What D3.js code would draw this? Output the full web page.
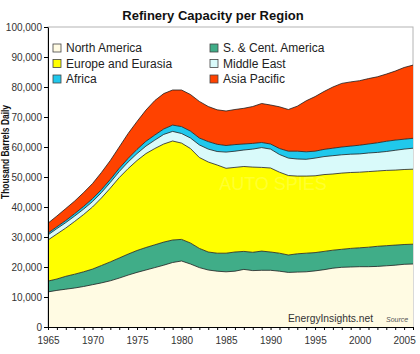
<!DOCTYPE html>
<html lang="en">
    <head>
        <meta charset="utf-8"/>
        <script src="https://d3js.org/d3.v7.min.js"></script>
        <style>
            body { margin: 0; background: #fff; }
            text { font-family: Arial, "Liberation Sans", sans-serif; }
        </style>
    </head>
    <body>
        <div id="chart"></div>
    </body>
    <script>
        // thousand barrels daily
        var years = [1965, 1966, 1967, 1968, 1969, 1970, 1971, 1972, 1973, 1974,
                     1975, 1976, 1977, 1978, 1979, 1980, 1981, 1982, 1983, 1984,
                     1985, 1986, 1987, 1988, 1989, 1990, 1991, 1992, 1993, 1994,
                     1995, 1996, 1997, 1998, 1999, 2000, 2001, 2002, 2003, 2004,
                     2005, 2006];
        var northAmerica = [11700, 12200, 12600, 13000, 13500, 14100, 14700, 15400, 16300, 17300,
                            18200, 19000, 19800, 20600, 21500, 22000, 21000, 19800, 19000, 18600,
                            18400, 18600, 19200, 18800, 18900, 18900, 18600, 18200, 18300, 18400,
                            18700, 19100, 19600, 19900, 20000, 20100, 20100, 20200, 20400, 20600,
                            20900, 21000];
        var southCentAmerica = [3600, 3800, 4300, 4600, 4900, 5200, 5800, 6300, 6700, 7000,
                                7300, 7500, 7600, 7700, 7500, 7200, 7000, 6400, 6000, 6000,
                                6200, 6400, 6000, 6100, 6400, 6100, 6000, 5800, 6100, 6200,
                                6100, 6100, 6000, 6000, 6200, 6300, 6500, 6700, 6700, 6700,
                                6600, 6600];
        var europeEurasia = [13700, 15000, 16100, 17600, 19100, 20700, 22500, 24600, 26800, 28500,
                             30000, 31300, 32100, 32700, 33000, 32100, 31500, 30300, 30000, 29400,
                             28300, 28200, 28300, 28400, 27900, 28000, 27000, 26500, 25900, 25700,
                             25600, 25600, 25400, 25400, 25300, 25200, 25200, 25100, 25100, 25000,
                             25000, 25000];
        var middleEast = [1700, 1800, 1800, 1800, 1800, 1800, 1800, 1900, 2000, 2200,
                          2300, 2500, 2800, 3200, 3200, 3200, 3500, 4200, 4300, 4500,
                          5400, 5400, 5500, 6000, 6600, 6300, 5900, 5800, 5700, 5600,
                          5900, 6000, 6100, 6100, 6100, 6100, 6200, 6200, 6300, 6600,
                          6800, 7000];
        var africa = [600, 600, 700, 800, 900, 1000, 1000, 1000, 1100, 1200,
                      1400, 1600, 1700, 1800, 2100, 2300, 2300, 2300, 2500, 2400,
                      2200, 2200, 2000, 1900, 1700, 1700, 2000, 2300, 2600, 2500,
                      2300, 2400, 2500, 2600, 2700, 2900, 3000, 3200, 3400, 3400,
                      3300, 3300];
        var asiaPacific = [3300, 3600, 4000, 4200, 4600, 5000, 5700, 6300, 7100, 8300,
                           9300, 10400, 11500, 11800, 11700, 12200, 12200, 12200, 11700, 11500,
                           11500, 11700, 11900, 12300, 13000, 13000, 13900, 13900, 15000, 17000,
                           18200, 19300, 20400, 21200, 21400, 21500, 21800, 22000, 22400, 23000,
                           23900, 24400];

        var regions = ["North America", "S. & Cent. America", "Europe and Eurasia",
                       "Middle East", "Africa", "Asia Pacific"];
        var colors = ["#fffbe3", "#40ad88", "#ffff00", "#d9fafa", "#20c8ec", "#ff4200"];
        var yTicks = [0, 10000, 20000, 30000, 40000, 50000, 60000, 70000, 80000, 90000, 100000];
        var xLabels = [1965, 1970, 1975, 1980, 1985, 1990, 1995, 2000, 2005];

        var margin = {top: 27, right: 7, bottom: 27, left: 48};
        var width = 420 - margin.left - margin.right;
        var height = 354 - margin.top - margin.bottom;

        var root = d3.select("#chart")
            .append("svg")
                .attr("width", 420)
                .attr("height", 354);

        root.append("rect")
            .attr("width", 420)
            .attr("height", 354)
            .attr("fill", "#fff");

        var svg = root.append("g")
            .attr("transform", "translate(" + margin.left + "," + margin.top + ")");

        var series = [northAmerica, southCentAmerica, europeEurasia, middleEast, africa, asiaPacific];
        var rows = years.map(function (yr, i) {
            var row = {year: yr};
            regions.forEach(function (r, k) { row[r] = series[k][i]; });
            return row;
        });
        var stacked = d3.stack().keys(regions)(rows);

        var x = d3.scaleLinear()
            .domain([years[0], years[years.length - 1]])
            .range([0, width]);

        var y = d3.scaleLinear()
            .domain([0, 100000])
            .range([height, 0]);

        // plot frame
        svg.append("rect")
            .attr("width", width)
            .attr("height", height)
            .attr("fill", "#fff")
            .attr("stroke", "#b4b4b4")
            .attr("stroke-width", 1);

        var area = d3.area()
            .x(function (d) { return x(d.data.year); })
            .y0(function (d) { return y(d[0]); })
            .y1(function (d) { return y(d[1]); });

        var topLine = d3.line()
            .x(function (d) { return x(d.data.year); })
            .y(function (d) { return y(d[1]); });

        svg.selectAll(".layer")
            .data(stacked)
            .enter()
            .append("path")
                .attr("class", "layer")
                .attr("d", area)
                .attr("fill", function (d, i) { return colors[i]; });

        svg.selectAll(".edge")
            .data(stacked)
            .enter()
            .append("path")
                .attr("class", "edge")
                .attr("d", topLine)
                .attr("fill", "none")
                .attr("stroke", "#1e1e1e")
                .attr("stroke-width", 0.8);

        // faint watermark
        svg.append("text")
            .attr("x", 225)
            .attr("y", 163)
            .attr("text-anchor", "middle")
            .attr("font-size", 18)
            .attr("fill", "#fff")
            .attr("fill-opacity", 0.2)
            .text("AUTO SPIES");

        // axes
        var yAxis = svg.append("g")
            .call(d3.axisLeft(y)
                .tickValues(yTicks)
                .tickSize(4)
                .tickSizeOuter(0)
                .tickPadding(2)
                .tickFormat(d3.format(",")));

        var xAxis = svg.append("g")
            .attr("transform", "translate(0," + height + ")")
            .call(d3.axisBottom(x)
                .tickValues(years)
                .tickSize(3)
                .tickSizeOuter(0)
                .tickPadding(7)
                .tickFormat(function (d) { return xLabels.indexOf(d) >= 0 ? d : ""; }));

        [yAxis, xAxis].forEach(function (ax) {
            ax.selectAll("path, line").attr("stroke", "#000");
            ax.selectAll("text")
                .attr("font-size", 10)
                .attr("font-family", "Arial, 'Liberation Sans', sans-serif")
                .attr("fill", "#333");
        });

        // legend
        var legend = svg.selectAll(".legend")
            .data(regions)
            .enter()
            .append("g")
                .attr("class", "legend")
                .attr("transform", function (d, i) {
                    return "translate(" + (5 + (i % 2) * 157) + "," + (21 + Math.floor(i / 2) * 15.5) + ")";
                });

        legend.append("rect")
            .attr("x", 0)
            .attr("y", -4)
            .attr("width", 8)
            .attr("height", 8)
            .attr("fill", function (d, i) { return colors[i]; })
            .attr("stroke", "#444")
            .attr("stroke-width", 0.8);

        legend.append("text")
            .attr("x", 13)
            .attr("dy", "0.36em")
            .attr("font-size", 12)
            .attr("fill", "#222")
            .text(function (d) { return d; });

        // titles and notes
        root.append("text")
            .attr("x", 213)
            .attr("y", 19.5)
            .attr("text-anchor", "middle")
            .attr("font-size", 13)
            .attr("font-weight", "bold")
            .attr("fill", "#111")
            .text("Refinery Capacity per Region");

        root.append("text")
            .attr("transform", "translate(9,152) rotate(-90)")
            .attr("text-anchor", "middle")
            .attr("font-size", 10)
            .attr("font-weight", "bold")
            .attr("fill", "#111")
            .attr("textLength", 94)
            .attr("lengthAdjust", "spacingAndGlyphs")
            .text("Thousand Barrels Daily");

        root.append("text")
            .attr("x", 288)
            .attr("y", 322)
            .attr("font-size", 11)
            .attr("fill", "#333")
            .attr("textLength", 85)
            .attr("lengthAdjust", "spacingAndGlyphs")
            .text("EnergyInsights.net");

        root.append("text")
            .attr("x", 386)
            .attr("y", 322)
            .attr("font-size", 7)
            .attr("font-style", "italic")
            .attr("fill", "#555")
            .text("Source");
    </script>
</html>
